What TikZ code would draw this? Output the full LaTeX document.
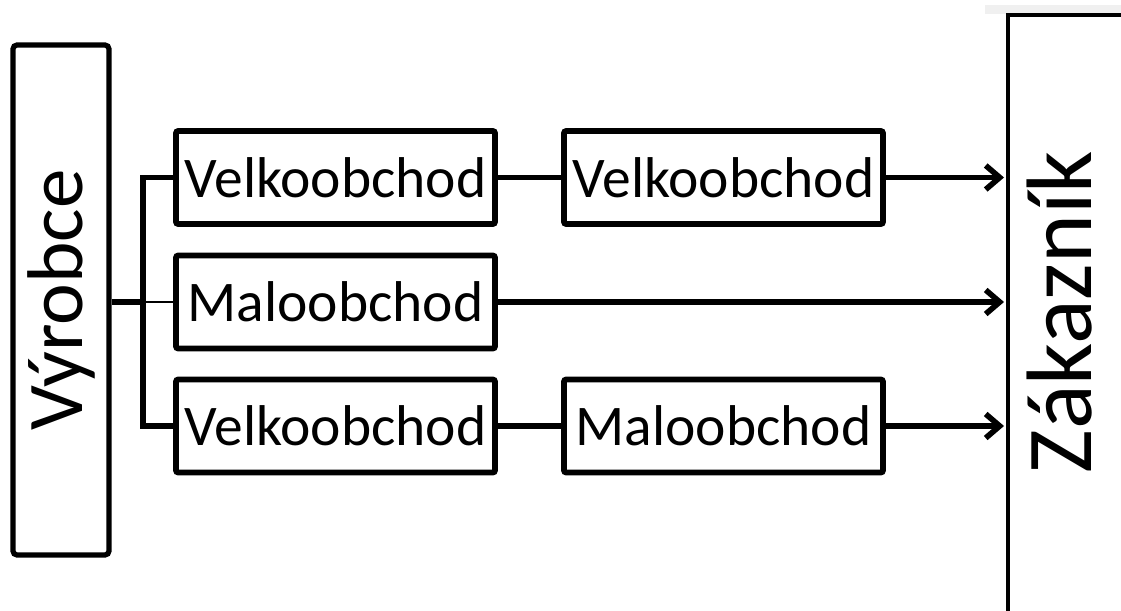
\documentclass[tikz,border=0pt]{standalone}
\usepackage{fontspec}
\setmainfont{Carlito}
\usepackage{tikz}
\usetikzlibrary{arrows.meta, positioning, calc}

\begin{document}
\begin{tikzpicture}[
		x=0.5pt, y=0.5pt,
		obchod/.style={
			rectangle,
			rounded corners=1pt,
			draw,
			line width=2.8pt,
			minimum width=159.5pt,
			minimum height=46.5pt,
			inner sep=0pt,
			font=\fontsize{28.75}{34}\selectfont
		},
		vyrobce/.style={
			rectangle,
			rounded corners=2pt,
			draw,
			line width=2.6pt,
			minimum width=255pt,
			minimum height=48pt,
			inner sep=0pt,
			rotate=90,
			font=\fontsize{39.5}{46}\selectfont
		},
		spoj/.style={
			line width=2.8pt
		},
		sipka/.style={
			line width=2.8pt,
			-{Straight Barb[length=7pt,width=12pt]}
		}
		]
		
		% okraj obrazku
		\useasboundingbox (0,0) rectangle (1121,-611);
		\fill[black!6] (985,-5) rectangle (1121,-14);
		
		% Vyrobce
		\node[vyrobce] (vyr) at (61,-300) {Výrobce};
		
		% obchody
		\node[obchod] (vo1) at (335.5,-177.5) {Velkoobchod};
		\node[obchod] (vo2) at (723.5,-177.5) {Velkoobchod};
		\node[obchod] (mo1) at (335.5,-302) {Maloobchod};
		\node[obchod] (vo3) at (335.5,-426) {Velkoobchod};
		\node[obchod] (mo2) at (723.5,-426) {Maloobchod};
		
		% Zakaznik
		\draw[line width=2pt] (1008,-611) -- (1008,-15) -- (1121,-15);
		\coordinate (hrana) at (1004,0);
		\node[rotate=90, font=\fontsize{46.5}{54}\selectfont] (zak) at (1060,-312)
		{Zákazník};
		
		% rozbocka
		\coordinate (rozc) at (143,-302);
		\draw[spoj] (vyr.south |- rozc) -- (rozc);
		\draw[line width=0.7pt] (rozc) -- (mo1.west);
		\draw[spoj] (vo1.west) -| (rozc) |- (vo3.west);
		
		\draw[spoj] (vo1) -- (vo2);
		\draw[spoj] (vo3) -- (mo2);
		
		\draw[sipka] (vo2.east) -- (vo2.east -| hrana);
		\draw[sipka] (mo1.east) -- (mo1.east -| hrana);
		\draw[sipka] (mo2.east) -- (mo2.east -| hrana);
		
	\end{tikzpicture}
\end{document}
